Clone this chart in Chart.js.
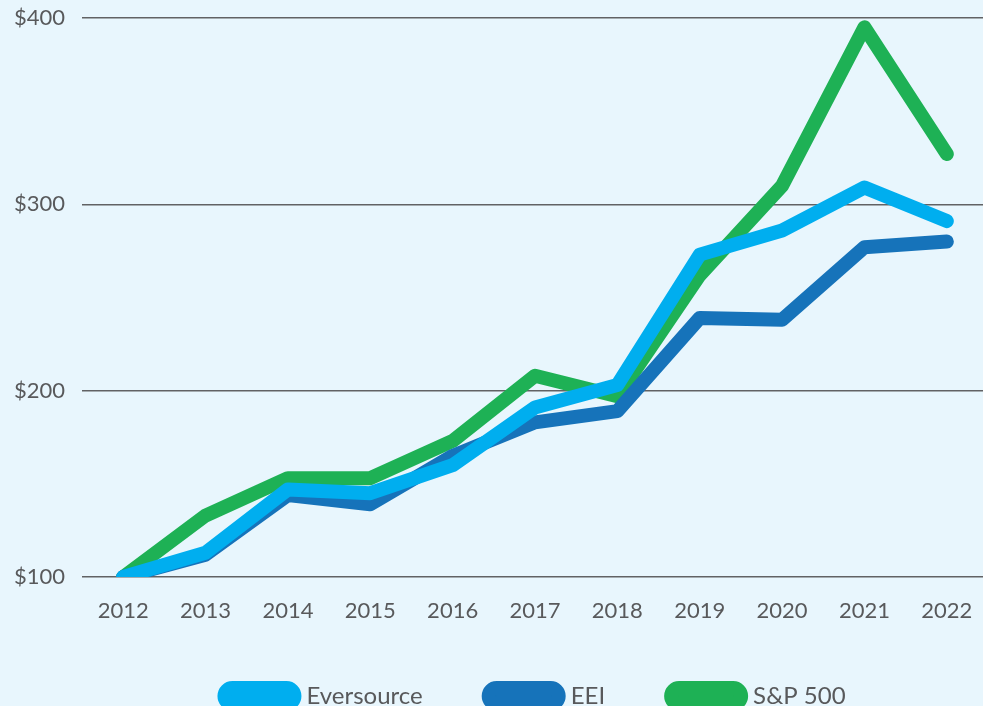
<!DOCTYPE html>
<html>
<head>
<meta charset="utf-8">
<script src="https://cdn.jsdelivr.net/npm/chart.js@4/dist/chart.umd.min.js"></script>
<style>
  html, body { margin: 0; padding: 0; background: #E8F6FD; overflow: hidden; }
  #wrap { width: 983px; height: 706px; position: relative; overflow: hidden; }
  canvas { position: absolute; left: 0; top: 0; }
</style>
</head>
<body>
<div id="wrap"><canvas id="c" width="988" height="706"></canvas></div>
<script>
const years = ['2012','2013','2014','2015','2016','2017','2018','2019','2020','2021','2022'];
const eversource = [100, 113, 147, 145, 160, 191, 203, 273, 286, 309, 291];
const eei        = [100, 112, 144, 139, 165, 183, 189, 239, 238, 277, 280];
const sp500      = [100, 133, 153, 153, 173, 208, 197, 262, 310, 395, 327];
const yTicks = [100, 200, 300, 400];

const ds = (label, data, color) => ({
  label, data,
  borderColor: color, backgroundColor: color,
  borderWidth: 14, pointRadius: 0, tension: 0,
  borderCapStyle: 'round', borderJoinStyle: 'round', fill: false
});

const legendPlace = {
  id: 'legendPlace',
  beforeInit(chart) {
    const orig = chart.legend.fit;
    chart.legend.fit = function () { orig.call(this); this.height = 82; };
  },
  afterLayout(chart) {
    const lg = chart.legend;
    lg.top = 618; lg.bottom = 706;
  }
};

new Chart(document.getElementById('c'), {
  type: 'line',
  data: {
    labels: years,
    datasets: [
      ds('Eversource', eversource, '#00AEEF'),
      ds('EEI', eei, '#1673BA'),
      ds('S&P 500', sp500, '#1EB155')
    ]
  },
  plugins: [legendPlace],
  options: {
    responsive: false,
    animation: false,
    layout: { padding: { left: 10, right: 0, top: 18, bottom: 0 } },
    plugins: {
      tooltip: { enabled: false },
      legend: {
        position: 'bottom',
        fullSize: false,
        labels: {
          boxWidth: 70, boxHeight: 16,
          useBorderRadius: true, borderRadius: 8,
          padding: 66,
          color: '#58595B',
          font: { family: 'Lato', size: 24 }
        }
      }
    },
    scales: {
      x: {
        offset: true,
        grid: { display: false, drawTicks: false },
        border: { display: false },
        ticks: { color: '#58595B', font: { family: 'Lato', size: 22 }, padding: 21, maxRotation: 0 },
        afterFit: (axis) => { axis.height = 47; axis.paddingLeft = 0; axis.paddingRight = 0; }
      },
      y: {
        min: 100, max: 400,
        afterBuildTicks: (axis) => { axis.ticks = yTicks.map(v => ({ value: v })); },
        grid: { color: '#616264', lineWidth: 1.6, drawTicks: false },
        border: { display: false },
        ticks: {
          color: '#58595B', font: { family: 'Lato', size: 22 }, padding: 17,
          callback: (v) => '$' + v
        },
        afterFit: (axis) => { axis.width = 72; axis.paddingTop = 0; axis.paddingBottom = 0; }
      }
    }
  }
});
</script>
</body>
</html>
